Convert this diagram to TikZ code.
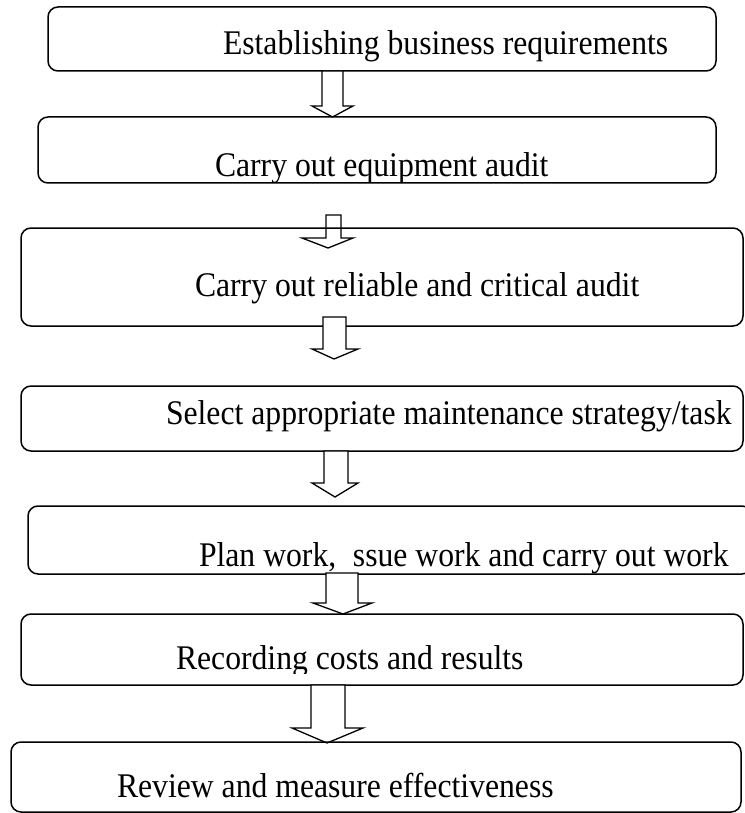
\documentclass[tikz,border=0pt]{standalone}
\usepackage{fontspec}
\setmainfont{Liberation Serif}
\newcommand\tallsc[1]{\scalebox{0.99}[1.08]{#1}}
\tikzset{
  box/.style={draw=black, line width=1.5pt, rounded corners=10pt, inner sep=0pt, outer sep=0pt, anchor=north west},
  lbl/.style={anchor=base west, inner sep=0pt, outer sep=0pt, font=\fontsize{32}{38}\selectfont},
  barrow/.style={draw=black, fill=white, line width=1.3pt, line join=miter}
}
% shaft left, shaft right, top, head start, head left, head right, tip x, tip y
\newcommand\blockarrow[8]{%
  \draw[barrow] (#1,#3) -- (#1,#4) -- (#5,#4) -- (#7,#8) -- (#6,#4) -- (#2,#4) -- (#2,#3) -- cycle;}
\begin{document}
\begin{tikzpicture}[x=1pt, y=-1pt]
  \useasboundingbox[fill=white] (0,0) rectangle (744,813);

  \node[box, minimum width=668pt, minimum height=64pt] (b1) at (48,7) {};
  \node[lbl] (t1) at (223,55) {\tallsc{Establishing business requirements}};

  \node[box, minimum width=678pt, minimum height=66pt] (b2) at (38,117) {};
  \begin{scope}
    \clip (38,117) rectangle (716,182);
    \node[lbl] (t2) at (215,177) {\tallsc{Carry out equipment audit}};
  \end{scope}

  \blockarrow{322}{343}{71}{106}{312}{353}{332.5}{117}

  \blockarrow{326}{341}{215}{238}{302}{353}{328}{248}

  \node[box, minimum width=722pt, minimum height=98pt] (b3) at (21,228) {};
  \node[lbl] (t3) at (195,296) {\tallsc{Carry out reliable and critical audit}};

  \blockarrow{323}{346}{317}{349}{312}{358}{334}{359}

  \node[box, minimum width=722pt, minimum height=65pt] (b4) at (21,386) {};
  \node[lbl] (t4) at (166,424) {\tallsc{Select appropriate maintenance strategy/task}};

  \blockarrow{324}{348}{451}{483}{312}{358}{335}{497}

  \node[box, minimum width=724pt, minimum height=68pt] (b5) at (28,506) {};
  \node[lbl] (t5) at (199,566) {\tallsc{Plan work, \phantom{i}ssue work and carry out work}};

  \blockarrow{326}{358}{573}{603}{313}{372}{343}{614}

  \node[box, minimum width=722pt, minimum height=71pt] (b6) at (21,614) {};
  \begin{scope}
    \clip (21,614) rectangle (743,673);
    \node[lbl] (t6) at (176,669) {\tallsc{Recording costs and results}};
  \end{scope}

  \blockarrow{311}{345}{685}{728}{292}{363}{327}{743}

  \node[box, minimum width=730pt, minimum height=70pt] (b7) at (11,742) {};
  \node[lbl] (t7) at (117,797) {\tallsc{Review and measure effectiveness}};
\end{tikzpicture}
\end{document}
